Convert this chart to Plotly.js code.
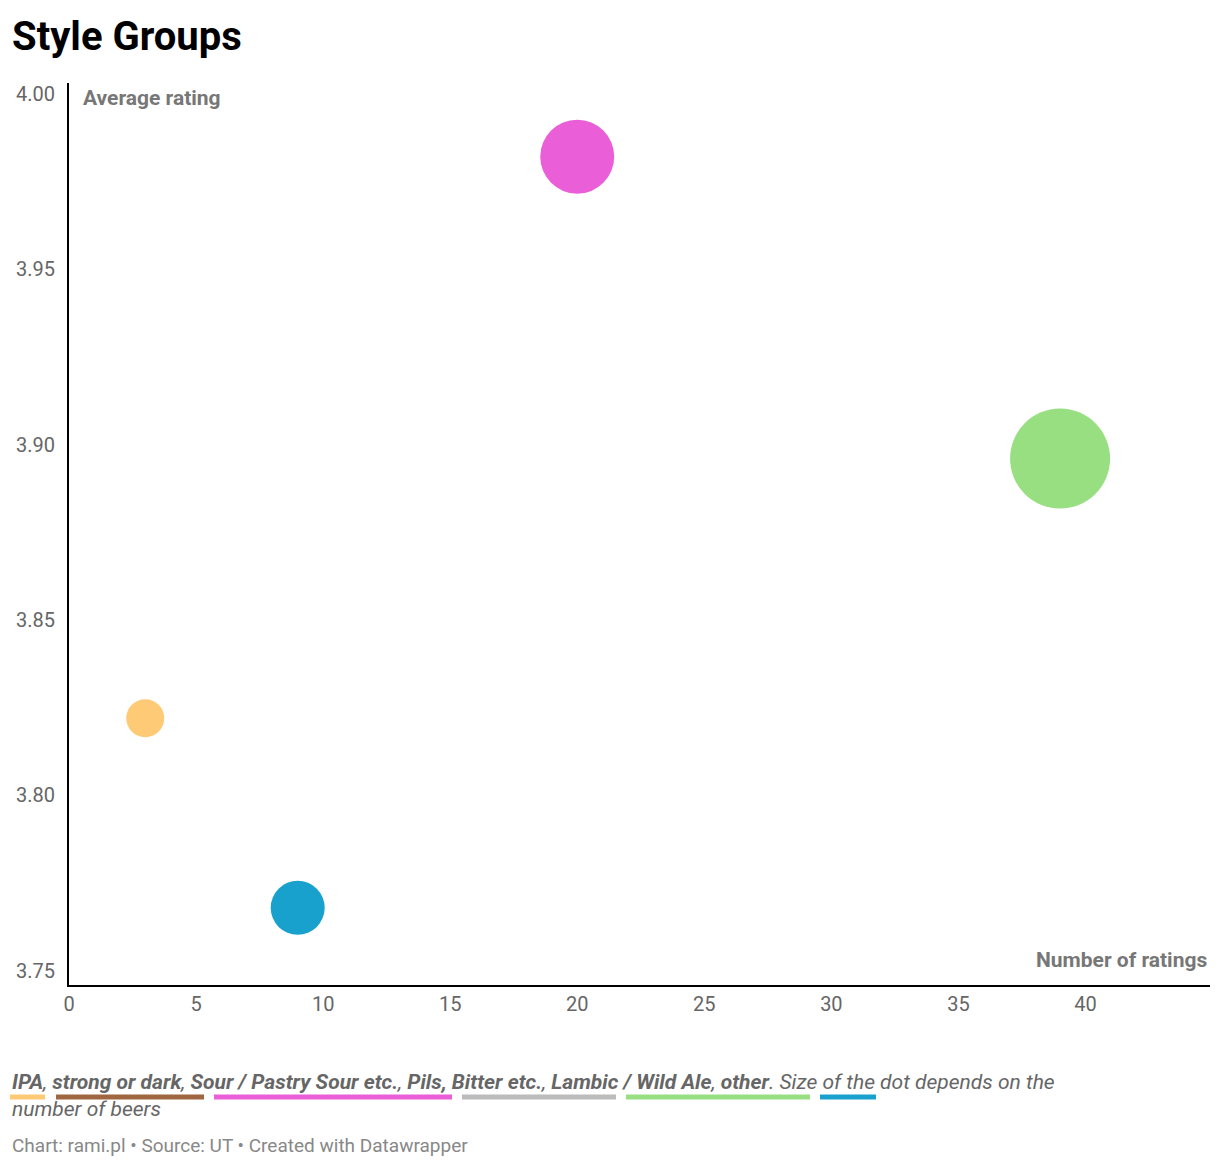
<!DOCTYPE html>
<html><head><meta charset="utf-8">
<script src="https://cdn.plot.ly/plotly-3.0.1.min.js"></script>
<style>body{margin:0;background:#fff}</style></head>
<body><div id="c" style="width:1220px;height:1168px"></div>
<script>
const groups = ["IPA","other","Sour / Pastry Sour etc.","Lambic / Wild Ale"];
const ratingsCount = [3, 9, 20, 39];
const avgRating = [3.822, 3.768, 3.982, 3.896];
const dotSize = [38, 54, 74, 100];
const colors = ["#ffca76","#18a1cd","#ea5fd8","#98df82"];
const legendNames = ["IPA","strong or dark","Sour / Pastry Sour etc.","Pils, Bitter etc.","Lambic / Wild Ale","other"];
const legendColors = ["#ffca76","#a0663f","#ea5fd8","#bbbbbb","#98df82","#18a1cd"];
const legendSpans = [[10,45],[56,204],[214,452],[462,616],[626,810],[820,876]];

const L=69,R=1210,T=83,B=985,W=R-L,H=B-T;
const px=x=>(x-L)/W, py=y=>(B-y)/H;
const shapes = legendSpans.map((s,i)=>({type:'line',xref:'paper',yref:'paper',x0:px(s[0]),x1:px(s[1]),y0:py(1097),y1:py(1097),line:{color:legendColors[i],width:5}}));
const legendText = legendNames.map(n=>'<b>'+n+'</b>').join(', ')+'. Size of the dot depends on the<br>number of beers';
Plotly.newPlot('c',[{
  x:ratingsCount,y:avgRating,text:groups,mode:'markers',type:'scatter',
  marker:{size:dotSize,color:colors,opacity:1,line:{width:0}},hoverinfo:'text'
}],{
  width:1220,height:1168,margin:{l:L,r:1220-R,t:T,b:1168-B},
  paper_bgcolor:'#fff',plot_bgcolor:'#fff',showlegend:false,
  font:{family:'Roboto',color:'#666',size:20},
  xaxis:{range:[0,44.9],tickvals:[0,5,10,15,20,25,30,35,40],showgrid:false,zeroline:false,showline:true,linecolor:'#000',linewidth:2,ticks:'',tickfont:{size:20,color:'#666'}},
  yaxis:{range:[3.746,4.003],tickvals:[3.75,3.8,3.85,3.9,3.95,4.0],tickformat:'.2f',showgrid:false,zeroline:false,showline:true,linecolor:'#000',linewidth:2,ticks:'',ticklabelstandoff:8,tickfont:{size:20,color:'#666'}},
  shapes:shapes,
  annotations:[
    {xref:'paper',yref:'paper',x:px(10),y:py(36),xanchor:'left',yanchor:'middle',showarrow:false,text:'<b>Style Groups</b>',font:{size:40,color:'#000',family:'Roboto'}},
    {xref:'paper',yref:'paper',x:px(81),y:py(98),xanchor:'left',yanchor:'middle',showarrow:false,text:'<b>Average rating</b>',font:{size:21,color:'#777'}},
    {xref:'paper',yref:'paper',x:px(1209),y:py(960),xanchor:'right',yanchor:'middle',showarrow:false,text:'<b>Number of ratings</b>',font:{size:21,color:'#777'}},
    {xref:'paper',yref:'paper',x:px(10),y:py(1068),xanchor:'left',yanchor:'top',align:'left',showarrow:false,text:'<i>'+legendText+'</i>',font:{size:21,color:'#666'}},
    {xref:'paper',yref:'paper',x:px(10),y:py(1145),xanchor:'left',yanchor:'middle',showarrow:false,text:'Chart: rami.pl • Source: UT • Created with Datawrapper',font:{size:19,color:'#888'}}
  ]
},{displayModeBar:false});
</script></body></html>
